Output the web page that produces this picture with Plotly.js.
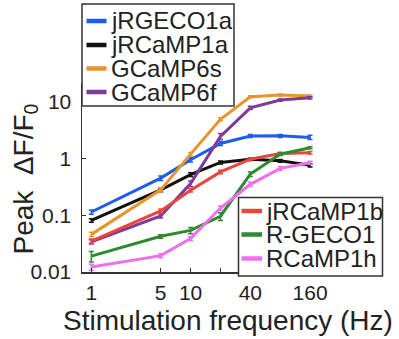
<!DOCTYPE html>
<html><head><meta charset="utf-8">
<script src="https://cdn.plot.ly/plotly-3.0.1.min.js"></script>
<style>html,body{margin:0;padding:0;background:#fff}#chart{width:399px;height:339px}</style>
</head><body><div id="chart"></div>
<script>
// ---- data ----
const freq = [1, 5, 10, 20, 40, 80, 160];
const names = ['jRGECO1a', 'jRCaMP1a', 'GCaMP6s', 'GCaMP6f', 'jRCaMP1b', 'R-GECO1', 'RCaMP1h'];
const jRGECO1a = [0.114, 0.45, 0.95, 1.84, 2.48, 2.5, 2.35];
const jRCaMP1a = [0.081, 0.28, 0.52, 0.85, 0.97, 0.91, 0.76];
const GCaMP6s  = [0.046, 0.28, 1.19, 4.9, 12.2, 13.1, 12.6];
const GCaMP6f  = [0.034, 0.097, 0.36, 2.45, 7.8, 10.7, 11.7];
const jRCaMP1b = [0.035, 0.119, 0.276, 0.58, 0.97, 1.22, 1.26];
const RGECO1   = [0.019, 0.0425, 0.054, 0.096, 0.53, 1.19, 1.54];
const RCaMP1h  = [0.0122, 0.0194, 0.0387, 0.134, 0.35, 0.67, 0.84];
// error bars (sem)
const err_jRGECO1a = [0.01, 0.04, 0.08, 0.15, 0.15, 0.15, 0.2];
const err_jRCaMP1a = [0.006, 0.02, 0.04, 0.05, 0.05, 0.05, 0.05];
const err_GCaMP6s  = [0.004, 0.02, 0.08, 0.3, 0.5, 0.5, 0.5];
const err_GCaMP6f  = [0.003, 0.008, 0.04, 0.3, 0.5, 0.5, 0.5];
const err_jRCaMP1b = [0.003, 0.01, 0.02, 0.04, 0.05, 0.06, 0.06];
const err_RGECO1   = [0.004, 0.003, 0.007, 0.015, 0.05, 0.06, 0.06];
const err_RCaMP1h  = [0.0015, 0.0015, 0.003, 0.012, 0.03, 0.05, 0.05];
const xTickVals = [1, 5, 10, 40, 160];
const xTickText = ['1', '5', '10', '40', '160'];
const xMinorTickVals = [20, 80];
const yTickVals = [0.01, 0.1, 1, 10];
const yTickText = ['0.01', '0.1', '1', '10'];

// ---- styling ----
const series = [jRGECO1a, jRCaMP1a, GCaMP6s, GCaMP6f, jRCaMP1b, RGECO1, RCaMP1h];
const errs = [err_jRGECO1a, err_jRCaMP1a, err_GCaMP6s, err_GCaMP6f, err_jRCaMP1b, err_RGECO1, err_RCaMP1h];
const colors = ['#1d5cf0', '#111111', '#e8942e', '#7d3a96', '#e8453c', '#2f8a2f', '#ee6fee'];
const FONT = 'Arial, "Liberation Sans", sans-serif';
const TXT = '#222';

const W = 399, H = 339;
const L = 82, T = 83, R = 318, B = 272;
const px = x => (x - L) / (R - L);
const py = y => (B - y) / (B - T);

const traces = series.map((s, i) => ({
  type: 'scatter', mode: 'lines', x: freq, y: s, name: names[i],
  line: {color: colors[i], width: 3},
  error_y: {type: 'data', array: errs[i], visible: true, color: colors[i], thickness: 1.5, width: 2.5},
  showlegend: false
}));

// custom legend boxes (two groups)
const shapes = [];
const annotations = [];
function legendBox(idx, x0, y0, x1, y1, rowY, swX0, swX1, txtX) {
  shapes.push({type: 'rect', xref: 'paper', yref: 'paper', x0: px(x0), x1: px(x1), y0: py(y1), y1: py(y0),
    fillcolor: '#ffffff', line: {color: '#333', width: 1.5}, layer: 'above'});
  idx.forEach((k, j) => {
    shapes.push({type: 'line', xref: 'paper', yref: 'paper', x0: px(swX0), x1: px(swX1), y0: py(rowY[j]), y1: py(rowY[j]),
      line: {color: colors[k], width: 4.5}, layer: 'above'});
    annotations.push({xref: 'paper', yref: 'paper', x: px(txtX), y: py(rowY[j]), xanchor: 'left', yanchor: 'middle',
      text: names[k], showarrow: false, font: {family: FONT, size: 24, color: TXT}});
  });
}
legendBox([0, 1, 2, 3], 82, 4, 234, 106, [21, 45, 68.5, 92], 86.5, 106.5, 109);
legendBox([4, 5, 6], 238.5, 197.5, 382.5, 276, [211, 234.5, 258.5], 241.5, 262, 264);

// axis titles
annotations.push({xref: 'paper', yref: 'paper', x: px(228), y: py(320.5), xanchor: 'center', yanchor: 'middle',
  text: 'Stimulation frequency (Hz)', showarrow: false, font: {family: FONT, size: 28, color: TXT}});
annotations.push({xref: 'paper', yref: 'paper', x: px(24.5), y: py(179), xanchor: 'center', yanchor: 'middle', textangle: -90,
  text: 'Peak\u00a0\u00a0ΔF/F<sub>0</sub>', showarrow: false, font: {family: FONT, size: 28, color: TXT}});

const layout = {
  width: W, height: H,
  margin: {l: L, r: W - R, t: T, b: H - B, pad: 0},
  paper_bgcolor: '#fff', plot_bgcolor: '#fff',
  font: {family: FONT, color: TXT},
  showlegend: false,
  xaxis: {
    type: 'log', range: [-0.094, 2.284],
    tickvals: xTickVals, ticktext: xTickText,
    ticks: 'inside', ticklen: 4, tickwidth: 1, tickcolor: '#333',
    minor: {tickvals: xMinorTickVals, ticks: 'inside', ticklen: 4, tickwidth: 1, tickcolor: '#333', showgrid: false},
    showline: true, linecolor: '#333', linewidth: 1.5, mirror: false,
    showgrid: false, zeroline: false,
    tickfont: {family: FONT, size: 21, color: TXT}, ticklabelstandoff: 1
  },
  yaxis: {
    type: 'log', range: [-2, 1.329],
    tickvals: yTickVals, ticktext: yTickText,
    ticks: 'inside', ticklen: 4, tickwidth: 1, tickcolor: '#333',
    showline: true, linecolor: '#333', linewidth: 1.5, mirror: false,
    showgrid: false, zeroline: false,
    tickfont: {family: FONT, size: 21, color: TXT}, ticklabelstandoff: 5
  },
  shapes: shapes,
  annotations: annotations
};

Plotly.newPlot('chart', traces, layout, {displayModeBar: false, staticPlot: true});
</script>
</body></html>
